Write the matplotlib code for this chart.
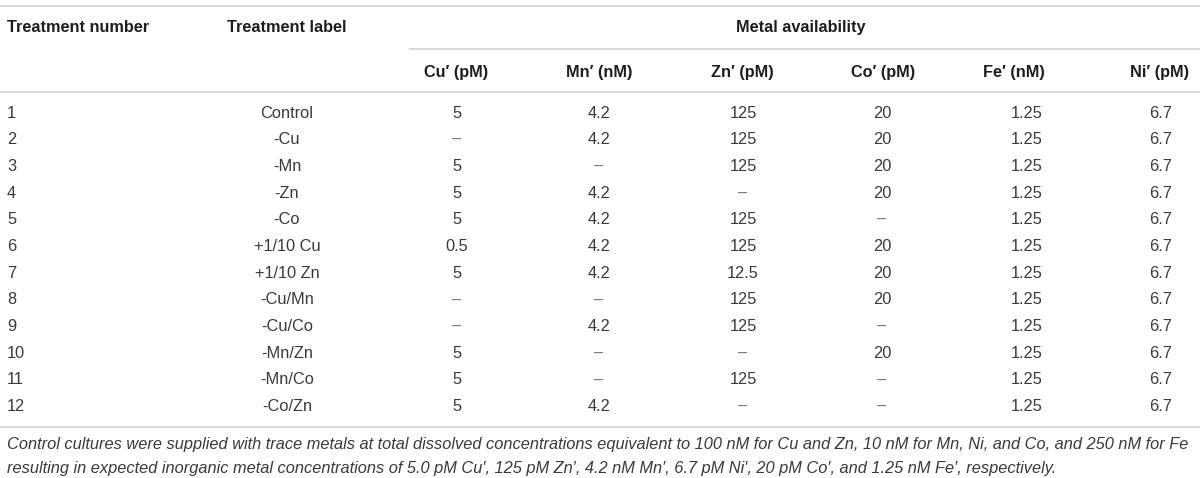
import matplotlib.pyplot as plt

plt.rcParams['font.family'] = ['Liberation Sans', 'DejaVu Sans']

# table content
numbers = [str(i) for i in range(1, 13)]
labels = ['Control', '-Cu', '-Mn', '-Zn', '-Co', '+1/10 Cu', '+1/10 Zn',
          '-Cu/Mn', '-Cu/Co', '-Mn/Zn', '-Mn/Co', '-Co/Zn']
cu = ['5', '–', '5', '5', '5', '0.5', '5', '–', '–', '5', '5', '5']
mn = ['4.2', '4.2', '–', '4.2', '4.2', '4.2', '4.2', '–', '4.2', '–', '–', '4.2']
zn = ['125', '125', '125', '–', '125', '125', '12.5', '125', '125', '–', '125', '–']
co = ['20', '20', '20', '20', '–', '20', '20', '20', '–', '20', '–', '–']
fe = ['1.25'] * 12
ni = ['6.7'] * 12
metal_headers = ['Cu′ (pM)', 'Mn′ (nM)', 'Zn′ (pM)', 'Co′ (pM)', 'Fe′ (nM)', 'Ni′ (pM)']
footnote = ["Control cultures were supplied with trace metals at total dissolved concentrations "
            "equivalent to 100 nM for Cu and Zn, 10 nM for Mn, Ni, and Co, and 250 nM for Fe",
            "resulting in expected inorganic metal concentrations of 5.0 pM Cu′, 125 pM Zn′, "
            "4.2 nM Mn′, 6.7 pM Ni′, 20 pM Co′, and 1.25 nM Fe′, respectively."]

# layout (pixels)
W, H = 1200, 478
metal_cols = [cu, mn, zn, co, fe, ni]
head_x = [456, 599, 742, 883, 1014, 1160]
val_x = [457, 599, 743, 882, 1027, 1161]
row_y0, row_dy = 113, 26.7
rule_c = '#d6d6d6'
head_c = '#1e1e1e'
body_c = '#3a3a3a'
fs_head, fs_body, fs_note = 11.7, 11.8, 11.8

fig = plt.figure(figsize=(W / 100, H / 100), dpi=100)
ax = fig.add_axes([0, 0, 1, 1])
ax.set_xlim(0, W)
ax.set_ylim(H, 0)
ax.axis('off')

# rules
for y, x0 in [(5.5, 0), (49, 409), (92, 0), (427, 0)]:
    ax.plot([x0, W], [y, y], color=rule_c, lw=1.3, solid_capstyle='butt')

# header
ax.text(7, 27, 'Treatment number', fontsize=fs_head, weight='bold', color=head_c, va='center')
ax.text(287, 27, 'Treatment label', fontsize=fs_head, weight='bold', color=head_c,
        va='center', ha='center')
ax.text(801, 27, 'Metal availability', fontsize=fs_head, weight='bold', color=head_c,
        va='center', ha='center')
for x, h in zip(head_x, metal_headers):
    ax.text(x, 72, h, fontsize=fs_head, weight='bold', color=head_c, va='center', ha='center')

# body rows
for i in range(len(numbers)):
    y = row_y0 + i * row_dy
    ax.text(7, y, numbers[i], fontsize=fs_body, color=body_c, va='center')
    ax.text(287, y, labels[i], fontsize=fs_body, color=body_c, va='center', ha='center')
    for x, col in zip(val_x, metal_cols):
        v = col[i]
        ax.text(x, y, v, fontsize=fs_body, color='#777777' if v == '–' else body_c,
                va='center', ha='center')

# footnote
for j, line in enumerate(footnote):
    ax.text(7, 445 + j * 24, line, fontsize=fs_note, style='italic', color=body_c, va='center')

fig.savefig('out.png', dpi=100)
